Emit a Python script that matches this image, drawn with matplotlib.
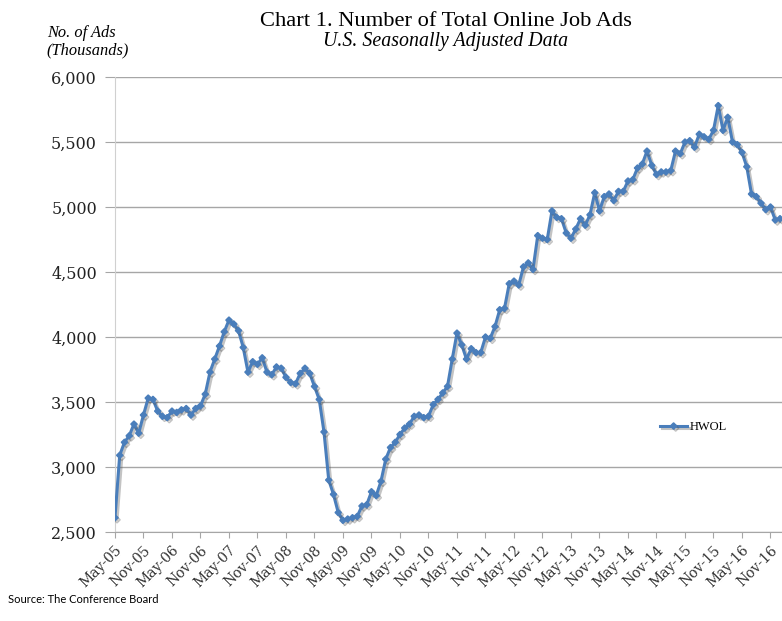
import matplotlib
matplotlib.use("Agg")
import matplotlib.pyplot as plt
import matplotlib.patheffects as pe
import numpy as np

# monthly HWOL totals (thousands), May-05 through Jan-17
hwol = [
    2610, 3090, 3190, 3240, 3330, 3260, 3400, 3530, 3520, 3430,
    3390, 3380, 3430, 3420, 3440, 3450, 3400, 3450, 3470, 3560,
    3730, 3830, 3930, 4040, 4130, 4100, 4050, 3920, 3730, 3810,
    3790, 3840, 3730, 3710, 3770, 3760, 3690, 3650, 3640, 3720,
    3760, 3720, 3620, 3520, 3270, 2900, 2790, 2650, 2590, 2600,
    2610, 2620, 2700, 2710, 2810, 2780, 2890, 3060, 3150, 3190,
    3250, 3300, 3330, 3390, 3400, 3380, 3390, 3480, 3520, 3570,
    3620, 3830, 4030, 3940, 3830, 3910, 3880, 3880, 4000, 3990,
    4080, 4210, 4220, 4410, 4430, 4400, 4540, 4570, 4520, 4780,
    4760, 4750, 4970, 4920, 4910, 4800, 4760, 4830, 4910, 4860,
    4940, 5110, 4970, 5080, 5100, 5050, 5120, 5120, 5200, 5210,
    5300, 5330, 5430, 5320, 5250, 5270, 5270, 5280, 5430, 5410,
    5500, 5510, 5460, 5560, 5540, 5520, 5590, 5780, 5590, 5690,
    5500, 5480, 5420, 5310, 5100, 5080, 5030, 4980, 5000, 4900,
    4910,
]

tick_labels = [
    "May-05", "Nov-05", "May-06", "Nov-06", "May-07", "Nov-07",
    "May-08", "Nov-08", "May-09", "Nov-09", "May-10", "Nov-10",
    "May-11", "Nov-11", "May-12", "Nov-12", "May-13", "Nov-13",
    "May-14", "Nov-14", "May-15", "Nov-15", "May-16", "Nov-16",
]
y_ticks = [2500, 3000, 3500, 4000, 4500, 5000, 5500, 6000]

serif = "Liberation Serif"
tick_serif = "DejaVu Serif"
blue = "#4a7ebb"
grid_gray = "#a6a6a6"

fig = plt.figure(figsize=(7.82, 6.21), dpi=100)
ax = fig.add_axes([0.147, 0.1433, 0.853, 0.7327])

x = np.arange(len(hwol))
ax.plot(x, hwol, color=blue, lw=2.2, marker="D", ms=3.2, mec=blue, mfc=blue,
        label="HWOL", zorder=3,
        path_effects=[pe.SimpleLineShadow(offset=(1.5, -1.5), alpha=0.35, shadow_color="#555555"),
                      pe.Normal()])

ax.set_xlim(0, (782 - 115) / 4.75)
ax.set_ylim(2500, 6000)
ax.set_yticks(y_ticks)
ax.set_yticklabels([f"{v:,}" for v in y_ticks], fontfamily=tick_serif, fontsize=11.5,
                   color="#222222")
ax.set_xticks(np.arange(0, 6 * len(tick_labels), 6))
ax.set_xticklabels(tick_labels, rotation=45, ha="right", rotation_mode="anchor",
                   fontfamily=tick_serif, fontsize=10, color="#333333")

ax.grid(axis="y", color=grid_gray, lw=1)
ax.set_axisbelow(True)
for side in ["top", "right"]:
    ax.spines[side].set_visible(False)
ax.spines["left"].set_color("#d0d0d0")
ax.spines["bottom"].set_color(grid_gray)
ax.tick_params(axis="y", length=7, color=grid_gray, pad=6)
ax.tick_params(axis="x", length=4, color=grid_gray, pad=4)

leg = ax.legend(loc="center left", bbox_to_anchor=(0.8, 0.23), frameon=False,
                prop={"family": serif, "size": 9}, handlelength=2.2, handletextpad=0.2)

fig.text(0.57, 0.965, "Chart 1. Number of Total Online Job Ads", ha="center", va="center",
         fontfamily=serif, fontsize=16.2)
fig.text(0.57, 0.933, "U.S. Seasonally Adjusted Data", ha="center", va="center",
         fontfamily=serif, fontsize=14.3, style="italic")
fig.text(0.06, 0.933, "No. of Ads\n(Thousands)", ha="left", va="center",
         fontfamily=serif, fontsize=11.8, style="italic", linespacing=1.05)
fig.text(0.01, 0.034, "Source: The Conference Board", ha="left", va="center",
         fontfamily="Lato", fontsize=8)

fig.savefig("out.png", dpi=100, facecolor="white")
